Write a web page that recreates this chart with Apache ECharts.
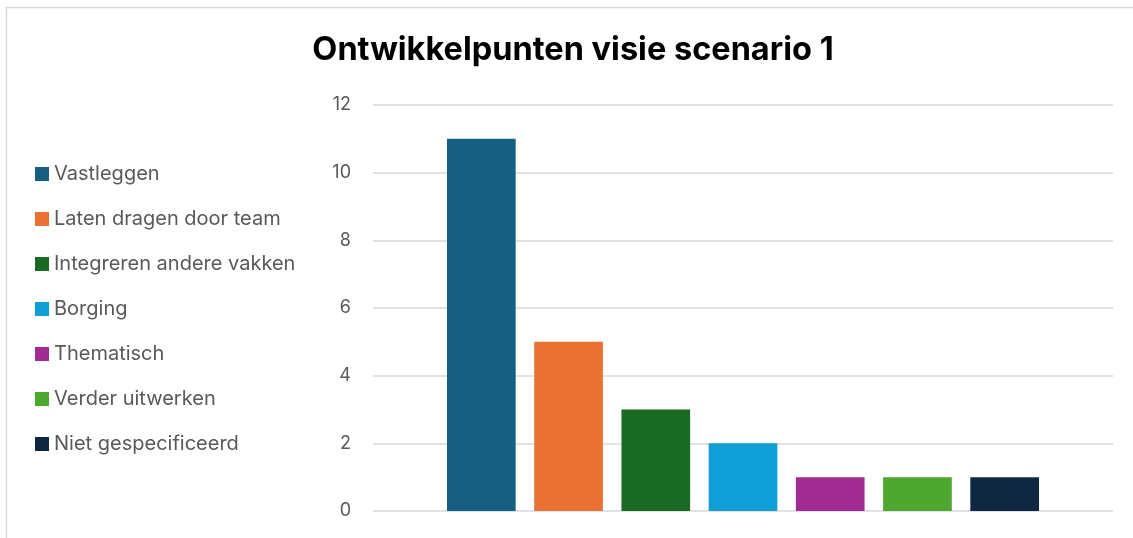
<!DOCTYPE html>
<html>
<head>
<meta charset="utf-8">
<script src="https://cdn.jsdelivr.net/npm/echarts@6/dist/echarts.min.js"></script>
<style>html,body{margin:0;padding:0;background:#fff;}#c{width:1133px;height:538px;}</style>
</head>
<body>
<div id="c"></div>
<script>
const titleText = 'Ontwikkelpunten visie scenario 1';
const seriesNames = ['Vastleggen','Laten dragen door team','Integreren andere vakken','Borging','Thematisch','Verder uitwerken','Niet gespecificeerd'];
const seriesValues = [11, 5, 3, 2, 1, 1, 1];
const seriesColors = ['#156082','#E97132','#196B24','#0F9ED5','#A02B93','#4EA72E','#0E2841'];
const yTicks = [0, 2, 4, 6, 8, 10, 12];

const FONT = 'Inter, "Noto Sans", sans-serif';
const chart = echarts.init(document.getElementById('c'), null, {renderer: 'canvas'});
chart.setOption({
  animation: false,
  backgroundColor: '#fff',
  graphic: [{
    type: 'rect', silent: true,
    shape: {x: 6.5, y: 7.5, width: 1200, height: 600},
    style: {fill: 'none', stroke: '#d9d9d9', lineWidth: 1.5}
  }],
  title: {
    text: titleText, left: 568, top: 29, textAlign: 'center',
    textStyle: {fontFamily: FONT, fontSize: 32.5, fontWeight: 'bold', color: '#000'}
  },
  legend: {
    orient: 'vertical', left: 30, top: 159, icon: 'rect',
    itemWidth: 14, itemHeight: 14, itemGap: 25,
    textStyle: {fontFamily: FONT, fontSize: 20, color: '#595959', lineHeight: 20},
    data: seriesNames
  },
  grid: {left: 373, right: 20, top: 105, bottom: 27, containLabel: false},
  xAxis: {
    type: 'category', data: [''],
    axisLine: {show: false}, axisTick: {show: false}, axisLabel: {show: false}
  },
  yAxis: {
    type: 'value', min: yTicks[0], max: yTicks[yTicks.length - 1], interval: 2,
    axisLine: {show: false}, axisTick: {show: false},
    axisLabel: {fontFamily: FONT, fontSize: 18, color: '#595959', margin: 22},
    splitLine: {lineStyle: {color: '#d9d9d9', width: 1.5}}
  },
  series: seriesNames.map((n, i) => ({
    name: n, type: 'bar', data: [seriesValues[i]],
    barGap: '27%', barCategoryGap: '20%',
    itemStyle: {color: seriesColors[i]}
  }))
});
</script>
</body>
</html>
